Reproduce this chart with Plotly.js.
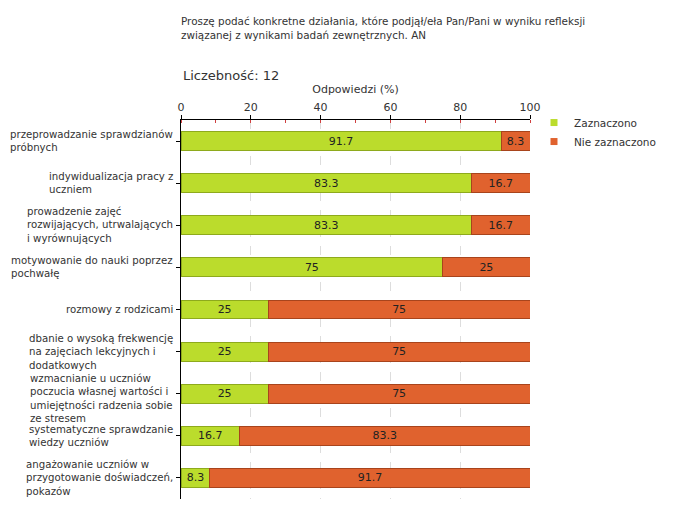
<!DOCTYPE html>
<html>
<head>
<meta charset="utf-8">
<script src="https://cdn.plot.ly/plotly-3.0.1.min.js"></script>
<style>html,body{margin:0;padding:0;background:#fff;}#chart{width:680px;height:520px;}</style>
</head>
<body>
<div id="chart"></div>
<script>
const categories = [
  "przeprowadzanie sprawdzianów<br>próbnych",
  "indywidualizacja pracy z<br>uczniem",
  "prowadzenie zajęć<br>rozwijających, utrwalających<br>i wyrównujących",
  "motywowanie do nauki poprzez<br>pochwałę",
  "rozmowy z rodzicami",
  "dbanie o wysoką frekwencję<br>na zajęciach lekcyjnych i<br>dodatkowych",
  "wzmacnianie u uczniów<br>poczucia własnej wartości i<br>umiejętności radzenia sobie<br>ze stresem",
  "systematyczne sprawdzanie<br>wiedzy uczniów",
  "angażowanie uczniów w<br>przygotowanie doświadczeń,<br>pokazów"
];
const zaznaczono = [91.7, 83.3, 83.3, 75, 25, 25, 25, 16.7, 8.3];
const nieZaznaczono = [8.3, 16.7, 16.7, 25, 75, 75, 75, 83.3, 91.7];
const seriesNames = ["Zaznaczono", "Nie zaznaczono"];
const titleText = "Proszę podać konkretne działania, które podjął/eła Pan/Pani w wyniku refleksji<br>związanej z wynikami badań zewnętrznych. AN";
const countText = "Liczebność: 12";
const axisTitle = "Odpowiedzi (%)";

const FONT = "DejaVu Sans, Verdana, sans-serif";
const green = "#bbdc2c", greenLine = "#8eaa1c";
const orange = "#e0622e", orangeLine = "#a8441c";

const fmt = v => String(v);

const traces = [
  {
    type: "bar", orientation: "h", y: categories, x: zaznaczono,
    name: seriesNames[0], showlegend: false,
    marker: {color: green, line: {color: greenLine, width: 1}},
    text: zaznaczono.map(fmt), textposition: "inside", insidetextanchor: "middle",
    textangle: 0, constraintext: "none",
    textfont: {family: FONT, size: 11, color: "#222"}, hoverinfo: "x+name"
  },
  {
    type: "bar", orientation: "h", y: categories, x: nieZaznaczono,
    name: seriesNames[1], showlegend: false,
    marker: {color: orange, line: {color: orangeLine, width: 1}},
    text: nieZaznaczono.map(fmt), textposition: "inside", insidetextanchor: "middle",
    textangle: 0, constraintext: "none",
    textfont: {family: FONT, size: 11, color: "#222"}, hoverinfo: "x+name"
  },
  {
    type: "scatter", mode: "markers", x: [null], y: [null], name: seriesNames[0],
    marker: {symbol: "square", size: 7, color: green}, showlegend: true
  },
  {
    type: "scatter", mode: "markers", x: [null], y: [null], name: seriesNames[1],
    marker: {symbol: "square", size: 7, color: orange}, showlegend: true
  }
];

const annotations = categories.map(c => {
  const lines = c.split("<br>").length;
  return {
    xref: "paper", yref: "y", x: 0, y: c, xanchor: "right", yanchor: "middle",
    xshift: -6, yshift: lines >= 4 ? -5 : 0, text: c, align: "left", showarrow: false,
    font: {family: FONT, size: 10.2, color: "#333"}
  };
});
annotations.push({
  xref: "paper", yref: "paper", x: 0, y: 1 + 45/380, xanchor: "left", yanchor: "middle",
  xshift: 0, text: countText, showarrow: false,
  font: {family: FONT, size: 13, color: "#333"}
});

const layout = {
  width: 680, height: 520,
  margin: {l: 181, r: 150, t: 120, b: 21, autoexpand: false},
  paper_bgcolor: "#fff", plot_bgcolor: "#fff",
  font: {family: FONT, size: 11, color: "#333"},
  title: {
    text: titleText, x: 0, xref: "paper", xanchor: "left",
    y: 1 - 25/520, yref: "container", yanchor: "top",
    font: {family: FONT, size: 10.4, color: "#333"}
  },
  barmode: "stack", bargap: 0.55,
  xaxis: {
    side: "top", range: [0, 100], dtick: 20, tick0: 0,
    showline: true, linecolor: "#000", linewidth: 1,
    ticks: "outside", ticklen: 4, tickcolor: "#000",
    tickfont: {family: FONT, size: 11, color: "#333"},
    showgrid: true, gridcolor: "#ddd", griddash: "dash", gridwidth: 1,
    zeroline: false,
    minor: {dtick: 10, ticks: "inside", ticklen: 3, tickcolor: "#d04040", showgrid: false},
    title: {text: axisTitle, standoff: 4, font: {family: FONT, size: 11, color: "#333"}},
    automargin: false, fixedrange: true
  },
  yaxis: {
    autorange: "reversed", showticklabels: false,
    showline: true, linecolor: "#000", linewidth: 1,
    ticks: "outside", ticklen: 4, tickcolor: "#000",
    showgrid: false, zeroline: false, automargin: false, fixedrange: true
  },
  legend: {
    x: 1 + 4/349, xref: "paper", xanchor: "left",
    y: 1 + 12/380, yanchor: "top", traceorder: "normal",
    font: {family: FONT, size: 10.5, color: "#333"},
    bgcolor: "rgba(0,0,0,0)", itemwidth: 30, tracegroupgap: 0
  },
  annotations: annotations,
  showlegend: true
};

Plotly.newPlot("chart", traces, layout, {displayModeBar: false, staticPlot: true});
</script>
</body>
</html>
